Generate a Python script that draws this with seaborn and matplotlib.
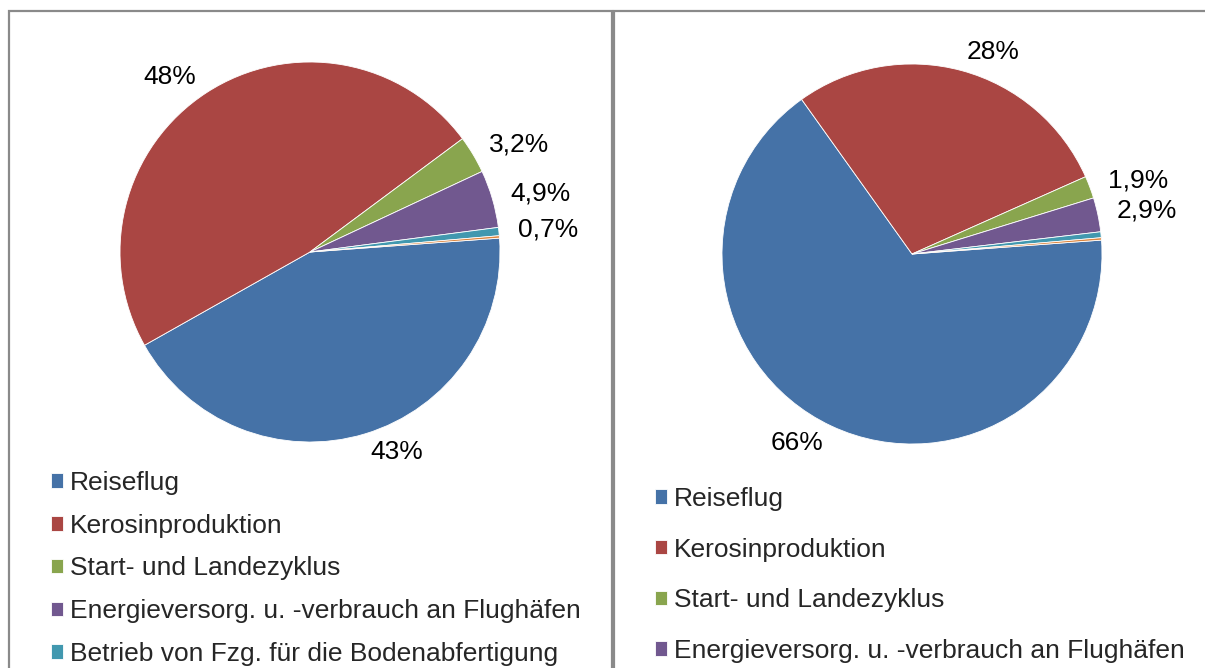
import matplotlib
matplotlib.use("Agg")
import matplotlib.pyplot as plt
import seaborn as sns
from matplotlib.patches import Rectangle

# categories (the last, tiny orange slice is cut off in the legend)
categories = [
    "Reiseflug",
    "Kerosinproduktion",
    "Start- und Landezyklus",
    "Energieversorg. u. -verbrauch an Flughäfen",
    "Betrieb von Fzg. für die Bodenabfertigung",
    "",
]
colors = ["#4572A7", "#AA4643", "#89A54E", "#71588F", "#4198AF", "#DB843D"]

left_values = [43.0, 48.0, 3.2, 4.9, 0.7, 0.2]
left_labels = ["43%", "48%", "3,2%", "4,9%", "0,7%", ""]

right_values = [66.3, 28.2, 1.9, 2.9, 0.5, 0.2]
right_labels = ["66%", "28%", "1,9%", "2,9%", "", ""]

sns.set_theme(style="white")
plt.rcParams["font.family"] = ["Liberation Sans", "DejaVu Sans"]

FS = 19
W, H = 1205, 668
fig = plt.figure(figsize=(W / 100, H / 100), dpi=100)
fig.patch.set_facecolor("white")


def px_axes(cx, cy, r):
    # axes whose data range (-1.25, 1.25) maps to a pie of radius r pixels
    half = 1.25 * r
    return fig.add_axes([(cx - half) / W, (H - cy - half) / H, 2 * half / W, 2 * half / H])


def draw_pie(ax, values, labels):
    wedges, texts = ax.pie(
        values,
        labels=labels,
        colors=colors,
        startangle=4.2,
        counterclock=False,
        labeldistance=1.1,
        wedgeprops=dict(linewidth=0.6, edgecolor="white"),
        textprops=dict(fontsize=FS, color="black"),
    )
    ax.set_xlim(-1.25, 1.25)
    ax.set_ylim(-1.25, 1.25)
    ax.set_aspect("equal")
    ax.axis("off")
    return wedges


ax1 = px_axes(310, 252, 190)
w1 = draw_pie(ax1, left_values, left_labels)
ax2 = px_axes(912, 254, 190)
w2 = draw_pie(ax2, right_values, right_labels)

# panel borders
for x0, x1 in [(9, 612), (614, 1215)]:
    fig.add_artist(Rectangle((x0 / W, -0.05), (x1 - x0) / W, (H - 11) / H + 0.05,
                             transform=fig.transFigure, fill=False,
                             edgecolor="#8a8a8a", linewidth=1.6, clip_on=False))

# legends (only the entries visible inside the cut-off panels)
leg_kw = dict(frameon=False, fontsize=FS, handlelength=0.46, handleheight=0.46,
              handletextpad=0.25, borderpad=0, borderaxespad=0, loc="upper left")
fig.legend(w1[:5], categories[:5], bbox_to_anchor=(51 / W, 1 - 471 / H),
           labelspacing=0.71, **leg_kw)
fig.legend(w2[:4], categories[:4], bbox_to_anchor=(655 / W, 1 - 487 / H),
           labelspacing=1.01, **leg_kw)

fig.savefig("out.png", dpi=100)
